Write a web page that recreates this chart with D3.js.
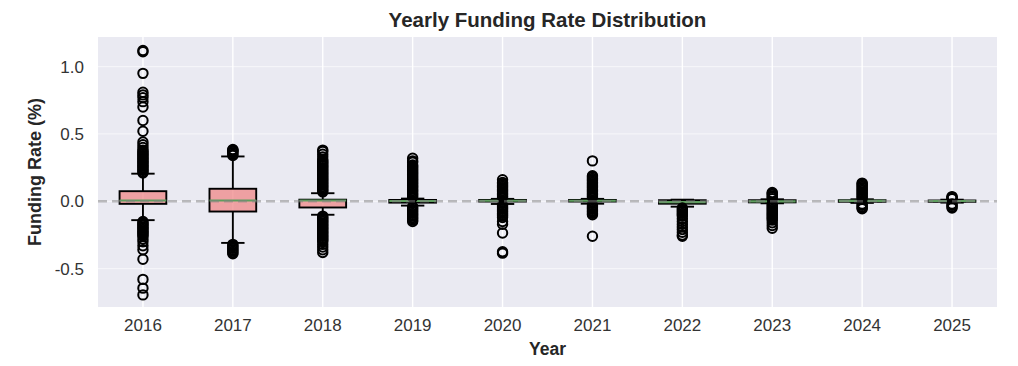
<!DOCTYPE html>
<html>
<head>
<meta charset="utf-8">
<script src="https://cdn.jsdelivr.net/npm/d3@7"></script>
<style>
  html, body { margin: 0; padding: 0; background: #ffffff; }
  svg { display: block; font-family: "Liberation Sans", Arial, sans-serif; }
</style>
</head>
<body>
<svg id="chart" width="1018" height="366"></svg>
<script>
const years = ["2016","2017","2018","2019","2020","2021","2022","2023","2024","2025"];
const q1 =          [-0.019, -0.076, -0.046, -0.010, -0.002, -0.002, -0.018, -0.008, -0.004, -0.004];
const medians =     [ 0.006,  0.006,  0.006,  0.002,  0.004,  0.004, -0.006,  0.000,  0.003,  0.002];
const q3 =          [ 0.075,  0.093,  0.012,  0.010,  0.010,  0.010,  0.008,  0.008,  0.008,  0.006];
const whiskerLow =  [-0.140, -0.309, -0.100, -0.032, -0.020, -0.018, -0.040, -0.015, -0.012, -0.010];
const whiskerHigh = [ 0.205,  0.333,  0.060,  0.020,  0.018,  0.018,  0.012,  0.015,  0.015,  0.012];

const outliers2016 = [1.12, 1.11, 0.95, 0.81, 0.79, 0.77, 0.74, 0.70, 0.60, 0.52, 0.44, 0.42, 0.40,
  0.38, 0.37, 0.36, 0.35, 0.34, 0.33, 0.32, 0.31, 0.30, 0.29, 0.28, 0.27, 0.26, 0.25, 0.24, 0.23, 0.22, 0.21,
  -0.15, -0.16, -0.17, -0.18, -0.19, -0.20, -0.21, -0.22, -0.23, -0.24, -0.25, -0.26, -0.28, -0.30, -0.33, -0.36,
  -0.43, -0.58, -0.645, -0.695];
const outliers2017 = [0.385, 0.38, 0.375, 0.37, 0.36, 0.35, 0.34,
  -0.32, -0.33, -0.34, -0.35, -0.36, -0.37, -0.38, -0.39];
const outliers2018 = [0.07, 0.08, 0.09, 0.10, 0.11, 0.12, 0.13, 0.14, 0.15, 0.16, 0.17, 0.18, 0.19, 0.20,
  0.21, 0.22, 0.23, 0.24, 0.25, 0.26, 0.27, 0.28, 0.29, 0.30, 0.31, 0.33, 0.35, 0.37, 0.38,
  -0.11, -0.12, -0.13, -0.14, -0.15, -0.16, -0.17, -0.18, -0.19, -0.20, -0.21, -0.22, -0.23, -0.24,
  -0.25, -0.26, -0.27, -0.28, -0.29, -0.30, -0.32, -0.34, -0.36, -0.38];
const outliers2019 = [0.03, 0.04, 0.05, 0.06, 0.07, 0.08, 0.09, 0.10, 0.11, 0.12, 0.13, 0.14, 0.15, 0.16,
  0.17, 0.18, 0.19, 0.20, 0.21, 0.22, 0.23, 0.24, 0.25, 0.26, 0.27, 0.29, 0.30, 0.32,
  -0.04, -0.05, -0.06, -0.07, -0.08, -0.09, -0.10, -0.11, -0.12, -0.13, -0.14, -0.15];
const outliers2020 = [0.03, 0.04, 0.05, 0.06, 0.07, 0.08, 0.09, 0.10, 0.11, 0.12, 0.13, 0.14, 0.16,
  -0.03, -0.04, -0.05, -0.06, -0.07, -0.08, -0.09, -0.10, -0.11, -0.12, -0.15, -0.17, -0.235, -0.375, -0.385];
const outliers2021 = [0.03, 0.04, 0.05, 0.06, 0.07, 0.08, 0.09, 0.10, 0.11, 0.12, 0.13, 0.14, 0.15, 0.16,
  0.17, 0.18, 0.19, 0.30,
  -0.03, -0.04, -0.05, -0.06, -0.07, -0.08, -0.09, -0.10, -0.26];
const outliers2022 = [-0.05, -0.06, -0.07, -0.08, -0.09, -0.10, -0.11, -0.13, -0.15, -0.17, -0.19, -0.21,
  -0.23, -0.25, -0.26];
const outliers2023 = [0.02, 0.03, 0.04, 0.05, 0.06, 0.065,
  -0.02, -0.03, -0.04, -0.05, -0.06, -0.07, -0.08, -0.09, -0.10, -0.11, -0.12, -0.13, -0.14, -0.16, -0.18, -0.20];
const outliers2024 = [0.02, 0.03, 0.04, 0.05, 0.06, 0.07, 0.08, 0.09, 0.10, 0.11, 0.12, 0.13, 0.135,
  -0.02, -0.03, -0.04, -0.05, -0.055];
const outliers2025 = [0.02, 0.025, 0.03, 0.035, -0.02, -0.03, -0.04, -0.05];
const outliers = [outliers2016, outliers2017, outliers2018, outliers2019, outliers2020,
  outliers2021, outliers2022, outliers2023, outliers2024, outliers2025];

const yTicks = [-0.5, 0.0, 0.5, 1.0];
const yTickLabels = ["-0.5", "0.0", "0.5", "1.0"];

const title = "Yearly Funding Rate Distribution";
const xLabel = "Year";
const yLabel = "Funding Rate (%)";

// ---- layout ----
const svg = d3.select("#chart");
const plot = { left: 98, right: 997, top: 37, bottom: 307 };

const x = d3.scaleBand().domain(years).range([plot.left, plot.right]).padding(0);
const y = d3.scaleLinear().domain([-0.785, 1.22]).range([plot.bottom, plot.top]);
const bw = x.bandwidth();
const boxW = bw * 0.52;
const capW = boxW * 0.5;
const cx = yr => x(yr) + bw / 2;

// background
svg.append("rect")
  .attr("x", plot.left).attr("y", plot.top)
  .attr("width", plot.right - plot.left).attr("height", plot.bottom - plot.top)
  .attr("fill", "#EAEAF2");

// gridlines
const grid = svg.append("g");
grid.selectAll("line.h").data(yTicks).join("line")
  .attr("class", "h")
  .attr("x1", plot.left).attr("x2", plot.right)
  .attr("y1", d => y(d)).attr("y2", d => y(d))
  .attr("stroke", "#ffffff").attr("stroke-opacity", 0.5).attr("stroke-width", 1.2);
grid.selectAll("line.v").data(years).join("line")
  .attr("class", "v")
  .attr("x1", d => cx(d)).attr("x2", d => cx(d))
  .attr("y1", plot.top).attr("y2", plot.bottom)
  .attr("stroke", "#ffffff").attr("stroke-width", 1.4);

// boxes
const boxes = svg.append("g");
years.forEach((yr, i) => {
  const g = boxes.append("g");
  const c = cx(yr);
  g.append("line").attr("x1", c).attr("x2", c)
    .attr("y1", y(q3[i])).attr("y2", y(whiskerHigh[i]))
    .attr("stroke", "#000").attr("stroke-width", 1.9);
  g.append("line").attr("x1", c).attr("x2", c)
    .attr("y1", y(q1[i])).attr("y2", y(whiskerLow[i]))
    .attr("stroke", "#000").attr("stroke-width", 1.9);
  [whiskerHigh[i], whiskerLow[i]].forEach(v => {
    g.append("line").attr("x1", c - capW / 2).attr("x2", c + capW / 2)
      .attr("y1", y(v)).attr("y2", y(v))
      .attr("stroke", "#000").attr("stroke-width", 1.9);
  });
  g.append("rect")
    .attr("x", c - boxW / 2).attr("width", boxW)
    .attr("y", y(q3[i])).attr("height", Math.max(0.5, y(q1[i]) - y(q3[i])))
    .attr("fill", "#F08080").attr("fill-opacity", 0.7)
    .attr("stroke", "#000").attr("stroke-width", 1.9);
  g.append("line").attr("x1", c - boxW / 2).attr("x2", c + boxW / 2)
    .attr("y1", y(medians[i])).attr("y2", y(medians[i]))
    .attr("stroke", "#5E9E5E").attr("stroke-width", 2.2);
  g.selectAll("circle").data(outliers[i]).join("circle")
    .attr("cx", c).attr("cy", d => y(d)).attr("r", 4.7)
    .attr("fill", "none").attr("stroke", "#000").attr("stroke-width", 2);
});

// zero reference line
svg.append("line")
  .attr("x1", plot.left).attr("x2", plot.right)
  .attr("y1", y(0)).attr("y2", y(0))
  .attr("stroke", "#808080").attr("stroke-opacity", 0.5)
  .attr("stroke-width", 2.6).attr("stroke-dasharray", "9,5");

// axes
const yAxis = svg.append("g")
  .attr("transform", `translate(${plot.left - 14},0)`)
  .call(d3.axisLeft(y).tickValues(yTicks).tickSize(0).tickPadding(0)
    .tickFormat((d, i) => yTickLabels[i]));
yAxis.select(".domain").remove();
yAxis.selectAll("text")
  .attr("font-size", 17).attr("fill", "#333").attr("font-family", "Liberation Sans, Arial, sans-serif");

const xAxis = svg.append("g")
  .attr("transform", `translate(0,${plot.bottom})`)
  .call(d3.axisBottom(x).tickSize(0).tickPadding(12));
xAxis.select(".domain").remove();
xAxis.selectAll("text")
  .attr("font-size", 17).attr("fill", "#333").attr("font-family", "Liberation Sans, Arial, sans-serif");

// labels
svg.append("text")
  .attr("x", (plot.left + plot.right) / 2).attr("y", 26.5)
  .attr("text-anchor", "middle").attr("font-size", 20.5).attr("font-weight", "bold")
  .attr("fill", "#262626").text(title);
svg.append("text")
  .attr("x", (plot.left + plot.right) / 2).attr("y", 355)
  .attr("text-anchor", "middle").attr("font-size", 17.5).attr("font-weight", "bold")
  .attr("fill", "#262626").text(xLabel);
svg.append("text")
  .attr("transform", `translate(41,${(plot.top + plot.bottom) / 2}) rotate(-90)`)
  .attr("text-anchor", "middle").attr("font-size", 18).attr("font-weight", "bold")
  .attr("fill", "#262626").text(yLabel);
</script>
</body>
</html>
